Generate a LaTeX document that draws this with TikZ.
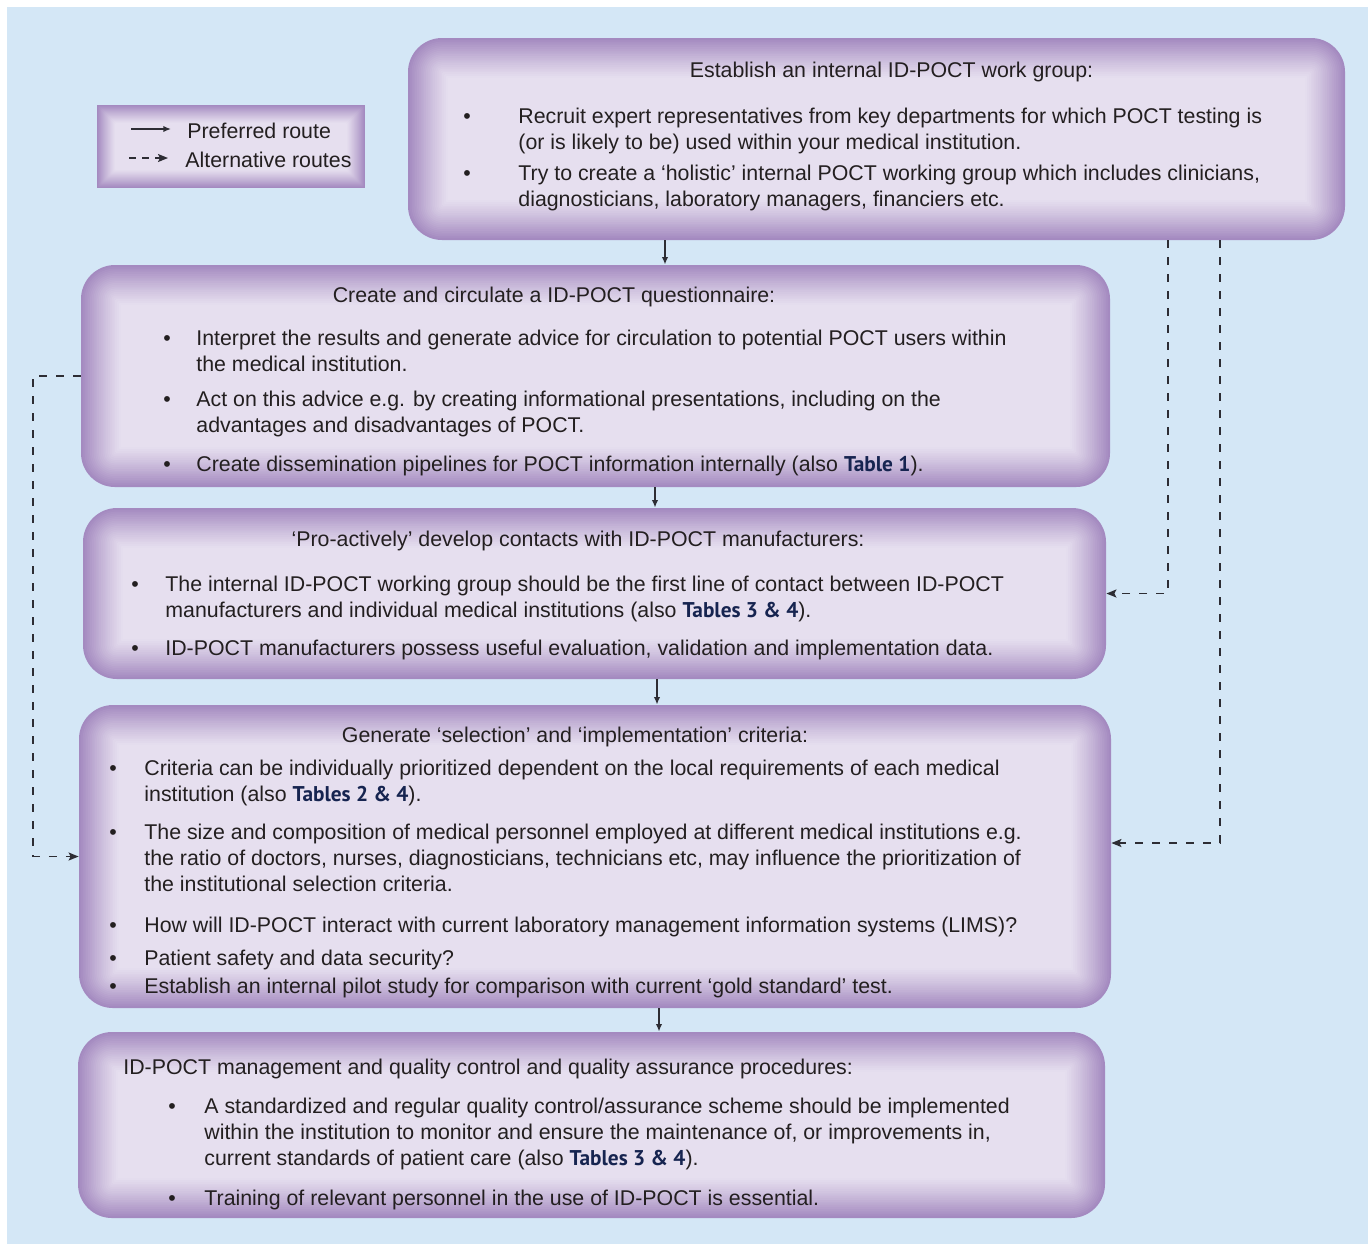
\documentclass[tikz,border=0pt]{standalone}
\usepackage{fontspec}
\setmainfont{Liberation Sans}
\newfontfamily\tabfont{PT Sans}
\usetikzlibrary{arrows.meta}

\definecolor{bgblue}{RGB}{212,231,246}
\definecolor{edgepurple}{RGB}{164,138,192}
\definecolor{corepurple}{RGB}{230,223,239}
\definecolor{tabnavy}{RGB}{22,36,80}
\definecolor{txtdark}{RGB}{35,31,32}
\definecolor{linegray}{RGB}{45,45,52}

\newcommand{\tbl}[1]{{\tabfont\bfseries\color{tabnavy}#1}}
\newcommand{\bl}[1]{\makebox[#1][l]{\textbullet}}

\tikzset{
  every node/.style={font=\fontsize{10.67}{13}\selectfont, text=txtdark},
  glow/.style n args={3}{fill=edgepurple, path picture={
      \foreach \i in {1,...,#3}{
        \pgfmathtruncatemacro\pp{100*(1-(1-\i/#3)^1.15)}
        \pgfmathsetmacro\rr{max(#1-#2*\i,0.5)}
        \pgfmathsetmacro\dd{#2*\i}
        \fill[corepurple!\pp!edgepurple, rounded corners=\rr pt]
          ([shift={(\dd pt,-\dd pt)}]path picture bounding box.north west) rectangle
          ([shift={(-\dd pt,\dd pt)}]path picture bounding box.south east);
      }}},
  flowbox/.style={glow={17}{0.9}{22}, rounded corners=17pt, inner sep=0pt},
  legbox/.style={glow={0.5}{0.5}{18}, inner sep=0pt},
  head/.style={anchor=base, inner sep=0pt},
  item/.style={anchor=base west, inner sep=0pt},
  pref/.style={draw=linegray, line width=0.9pt, -{Latex[length=3.8pt,width=3.2pt]}},
  alt/.style={draw=linegray, line width=0.8pt, dash pattern=on 4pt off 4.5pt,
    -{Stealth[length=5pt,width=4pt,inset=1pt]}}
}

\begin{document}
\begin{tikzpicture}[x=0.5pt,y=-0.5pt]
\useasboundingbox (0,0) rectangle (1368,1244);
\fill[bgblue] (7,7) rectangle (1368,1244);

% boxes
\node[flowbox, minimum width=468.5pt, minimum height=101pt] (box1) at (876.5,139) {};
\node[legbox, minimum width=134pt, minimum height=41.5pt] (legend) at (231,146.5) {};
\node[flowbox, minimum width=514.5pt, minimum height=111pt] (box2) at (595.5,376) {};
\node[flowbox, minimum width=511.5pt, minimum height=85.5pt] (box3) at (594.5,593.5) {};
\node[flowbox, minimum width=516pt, minimum height=151.5pt] (box4) at (595,856.5) {};
\node[flowbox, minimum width=513.5pt, minimum height=93pt] (box5) at (591.5,1125) {};

% columns of the connectors
\coordinate (a1) at (665,0);
\coordinate (a2) at (655,0);
\coordinate (a3) at (657,0);
\coordinate (a4) at (659,0);
\coordinate (d1) at (1168,0);
\coordinate (d2) at (1220,0);
\coordinate (d3) at (0,843);
\coordinate (d4) at (33,0);

% preferred route
\draw[pref] (box1.south -| a1) -- (box2.north -| a1);
\draw[pref] (box2.south -| a2) -- (box3.north -| a2);
\draw[pref] (box3.south -| a3) -- (box4.north -| a3);
\draw[pref] (box4.south -| a4) -- (box5.north -| a4);

% alternative routes
\draw[alt] (box1.south -| d1) |- (box3.east);
\draw[alt] (box1.south -| d2) |- (box4.east |- d3);
\draw[alt] (box2.west) -- (box2.west -| d4) |- (box4.west);

% legend
\coordinate (lg1) at (131,129);
\coordinate (lg2) at (171,129);
\coordinate (lg3) at (129,158);
\coordinate (lg4) at (168,158);
\draw[pref] (lg1) -- (lg2);
\draw[alt, dash pattern=on 3.5pt off 3pt] (lg3) -- (lg4);
\node[item] (legpref) at (187,138) {Preferred route};
\node[item] (legalt) at (185,167) {Alternative routes};

% box 1
\node[head] (t1) at (891.5,77) {Establish an internal ID-POCT work group:};
\node[item] (b1a) at (463,123) {\begin{tabular}[t]{@{}l@{}l@{}}\bl{27.5pt}&Recruit expert representatives from key departments for which POCT testing is\\&(or is likely to be) used within your medical institution.\end{tabular}};
\node[item] (b1b) at (463,180) {\begin{tabular}[t]{@{}l@{}l@{}}\bl{27.5pt}&Try to create a ‘holistic’ internal POCT working group which includes clinicians,\\&diagnosticians, laboratory managers, financiers etc.\end{tabular}};

% box 2
\node[head] (t2) at (554,302) {Create and circulate a ID-POCT questionnaire:};
\node[item] (b2a) at (163,345) {\begin{tabular}[t]{@{}l@{}l@{}}\bl{16.5pt}&Interpret the results and generate advice for circulation to potential POCT users within\\&the medical institution.\end{tabular}};
\node[item] (b2b) at (163,406) {\begin{tabular}[t]{@{}l@{}l@{}}\bl{16.5pt}&Act on this advice e.g. by creating informational presentations, including on the\\&advantages and disadvantages of POCT.\end{tabular}};
\node[item] (b2c) at (163,471) {\begin{tabular}[t]{@{}l@{}l@{}}\bl{16.5pt}&Create dissemination pipelines for POCT information internally (also \tbl{Table 1}).\end{tabular}};

% box 3
\node[head] (t3) at (578,546) {‘Pro-actively’ develop contacts with ID-POCT manufacturers:};
\node[item] (b3a) at (131,591) {\begin{tabular}[t]{@{}l@{}l@{}}\bl{17pt}&The internal ID-POCT working group should be the first line of contact between ID-POCT\\&manufacturers and individual medical institutions (also \tbl{Tables 3 \& 4}).\end{tabular}};
\node[item] (b3b) at (131,655) {\begin{tabular}[t]{@{}l@{}l@{}}\bl{17pt}&ID-POCT manufacturers possess useful evaluation, validation and implementation data.\end{tabular}};

% box 4
\node[head] (t4) at (575,742) {Generate ‘selection’ and ‘implementation’ criteria:};
\node[item] (b4a) at (109,775) {\begin{tabular}[t]{@{}l@{}l@{}}\bl{17.5pt}&Criteria can be individually prioritized dependent on the local requirements of each medical\\&institution (also \tbl{Tables 2 \& 4}).\end{tabular}};
\node[item] (b4b) at (109,839) {\begin{tabular}[t]{@{}l@{}l@{}}\bl{17.5pt}&The size and composition of medical personnel employed at different medical institutions e.g.\\&the ratio of doctors, nurses, diagnosticians, technicians etc, may influence the prioritization of\\&the institutional selection criteria.\end{tabular}};
\node[item] (b4c) at (109,932) {\begin{tabular}[t]{@{}l@{}l@{}}\bl{17.5pt}&How will ID-POCT interact with current laboratory management information systems (LIMS)?\end{tabular}};
\node[item] (b4d) at (109,965) {\begin{tabular}[t]{@{}l@{}l@{}}\bl{17.5pt}&Patient safety and data security?\end{tabular}};
\node[item] (b4e) at (109,993) {\begin{tabular}[t]{@{}l@{}l@{}}\bl{17.5pt}&Establish an internal pilot study for comparison with current ‘gold standard’ test.\end{tabular}};

% box 5
\node[item] (t5) at (123,1074) {ID-POCT management and quality control and quality assurance procedures:};
\node[item] (b5a) at (168,1113) {\begin{tabular}[t]{@{}l@{}l@{}}\bl{18pt}&A standardized and regular quality control/assurance scheme should be implemented\\&within the institution to monitor and ensure the maintenance of, or improvements in,\\&current standards of patient care (also \tbl{Tables 3 \& 4}).\end{tabular}};
\node[item] (b5b) at (168,1205) {\begin{tabular}[t]{@{}l@{}l@{}}\bl{18pt}&Training of relevant personnel in the use of ID-POCT is essential.\end{tabular}};
\end{tikzpicture}
\end{document}
